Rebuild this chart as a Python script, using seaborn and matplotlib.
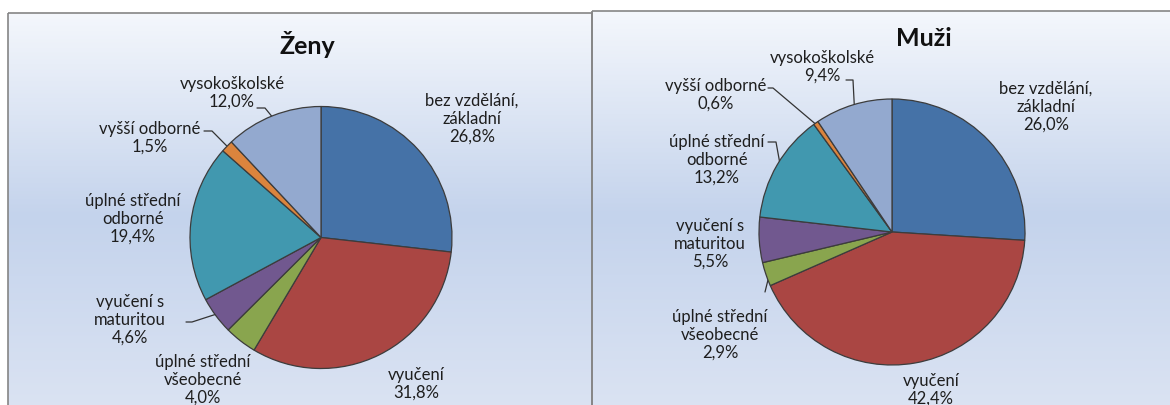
import numpy as np
import matplotlib
matplotlib.use('Agg')
import matplotlib.pyplot as plt
import seaborn as sns
from matplotlib.colors import LinearSegmentedColormap
from matplotlib.patches import Rectangle

# --- data -------------------------------------------------------------
categories = ['bez vzdělání, základní', 'vyučení', 'úplné střední všeobecné',
              'vyučení s maturitou', 'úplné střední odborné', 'vyšší odborné',
              'vysokoškolské']
label_names = ['bez vzdělání,\nzákladní', 'vyučení', 'úplné střední\nvšeobecné',
               'vyučení s\nmaturitou', 'úplné střední\nodborné', 'vyšší odborné',
               'vysokoškolské']
zeny = [26.8, 31.8, 4.0, 4.6, 19.4, 1.5, 12.0]
muzi = [26.0, 42.4, 2.9, 5.5, 13.2, 0.6, 9.4]
titles = ['Ženy', 'Muži']

slice_colors = ['#4572A7', '#AA4643', '#89A54E', '#71588F', '#4198AF', '#DB843D', '#93A9CF']

sns.set_theme(style='white')
plt.rcParams['font.family'] = ['Lato', 'DejaVu Sans']
palette = sns.color_palette(slice_colors)

W, H = 1170, 405
fig = plt.figure(figsize=(W / 100, H / 100), dpi=100)
fig.patch.set_facecolor('white')
bg = fig.add_axes([0, 0, 1, 1], zorder=0)
bg.axis('off')

grad_cmap = LinearSegmentedColormap.from_list(
    'panel', [(0, '#f4f7fc'), (0.5, '#c4d3ec'), (1, '#dce4f3')])
grad = np.linspace(0, 1, 256).reshape(-1, 1)

# panel boxes: (x0, x1, y0, y1)
panels = [(8, 592, 13, 420), (592, 1185, 11, 420)]
for x0, x1, y0, y1 in panels:
    bg.imshow(grad, extent=(x0, x1, y1, y0), aspect='auto', cmap=grad_cmap,
              origin='upper', zorder=1)
    bg.add_patch(Rectangle((x0, y0), x1 - x0, y1 - y0, fill=False,
                           edgecolor='#858585', lw=1.2, zorder=2))
bg.set_xlim(0, W)
bg.set_ylim(H, 0)

# pie layout: centre and radius in pixels
pie_geom = [((321, 237.5), 131), ((892, 232), 133)]
title_pos = [(307, 45), (924, 39)]

# label block centres (x, y) per slice
label_pos = [
    [(472, 119), (416, 384), (203, 380), (130, 320), (133, 219), (150, 138), (232, 93)],
    [(1046, 107), (931, 390), (720, 335), (710, 244), (717, 160), (716, 95), (822, 67)],
]
# leader start/elbow points per slice (None = no leader)
leaders = [
    [None, None, None, [(186, 322), (192, 322)], None,
     [(204, 131), (212, 131)], [(257, 108), (265, 108)]],
    [None, None, [(765, 292), (765, 292)], None, [(768, 142), (776, 142)],
     [(768, 88), (773, 88)], [(846, 80), (853, 80)]],
]

for i, values in enumerate([zeny, muzi]):
    (cx, cy), r = pie_geom[i]
    ax = fig.add_axes([(cx - r) / W, (H - cy - r) / H, 2 * r / W, 2 * r / H], zorder=3)
    wedges, _ = ax.pie(values, colors=palette, startangle=90, counterclock=False,
                       wedgeprops=dict(edgecolor='#3c3c3c', linewidth=0.9))
    ax.set_xlim(-1, 1)
    ax.set_ylim(-1, 1)
    ax.set_aspect('equal')
    ax.patch.set_alpha(0)

    bg.text(*title_pos[i], titles[i], ha='center', va='center', fontsize=18,
            fontweight='bold', color='#111111', zorder=5)

    for j, w in enumerate(wedges):
        pct = f'{values[j]:.1f}%'.replace('.', ',')
        lx, ly = label_pos[i][j]
        bg.text(lx, ly, f'{label_names[j]}\n{pct}', ha='center', va='center',
                fontsize=12, color='#1e1e1e', linespacing=1.15, zorder=5)
        if leaders[i][j] is not None:
            mid = np.deg2rad((w.theta1 + w.theta2) / 2)
            disp = ax.transData.transform((0.97 * np.cos(mid), 0.97 * np.sin(mid)))
            ax_pt = bg.transData.inverted().transform(disp)
            pts = leaders[i][j] + [tuple(ax_pt)]
            xs, ys = zip(*pts)
            bg.plot(xs, ys, color='#333333', lw=0.9, zorder=4)

fig.savefig('out.png', dpi=100)
